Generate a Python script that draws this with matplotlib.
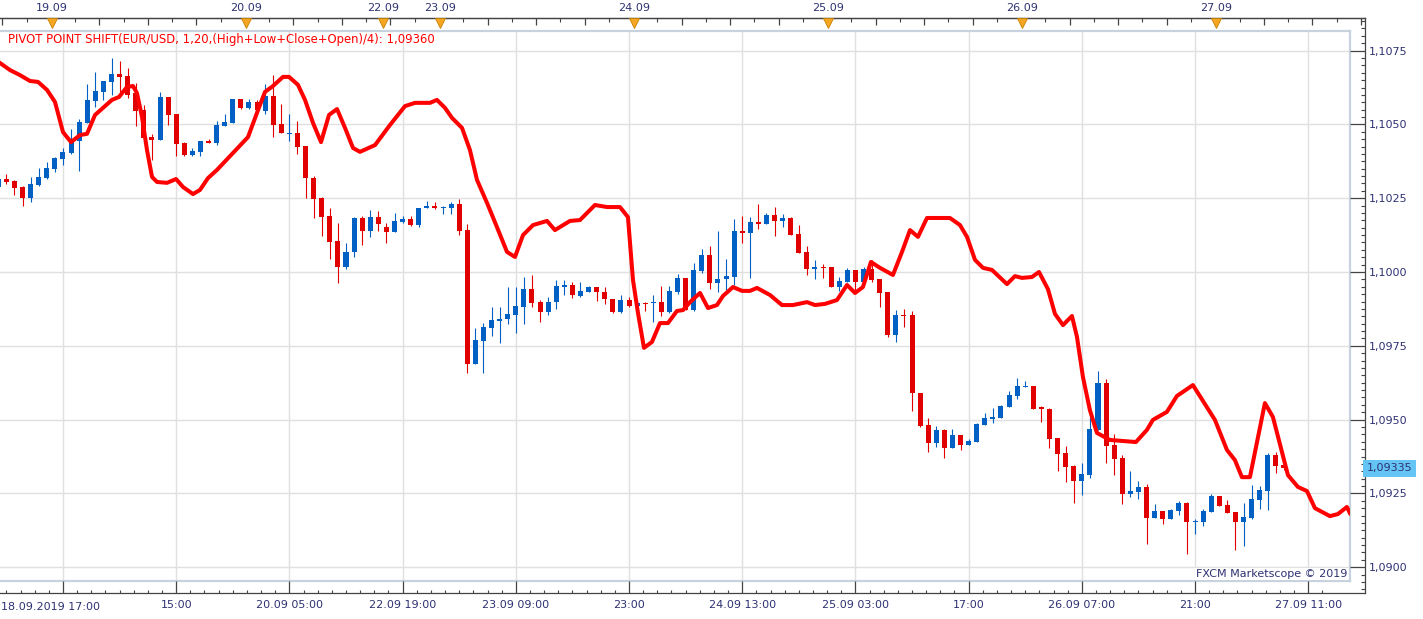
import matplotlib
matplotlib.use("Agg")
import matplotlib.pyplot as plt
from matplotlib.transforms import blended_transform_factory
from matplotlib.ticker import FixedLocator, FuncFormatter, MultipleLocator
import numpy as np

# ---------------- data ----------------
opens = [1.10288,1.10315,1.10308,1.10288,1.10251,1.10295,1.10318,1.10349,1.10383,1.10403,
         1.10444,1.10505,1.10579,1.10610,1.10644,1.10671,1.10664,1.10606,1.10549,1.10457,
         1.10447,1.10593,1.10535,1.10437,1.10396,1.10407,1.10444,1.10437,1.10495,1.10505,
         1.10586,1.10556,1.10576,1.10545,1.10596,1.10501,1.10467,1.10471,1.10427,1.10318,
         1.10251,1.10190,1.10105,1.10017,1.10068,1.10183,1.10139,1.10186,1.10152,1.10136,
         1.10169,1.10180,1.10159,1.10217,1.10224,1.10217,1.10217,1.10230,1.10142,1.09688,
         1.09766,1.09810,1.09834,1.09841,1.09854,1.09881,1.09942,1.09898,1.09864,1.09898,
         1.09949,1.09956,1.09919,1.09932,1.09949,1.09932,1.09909,1.09864,1.09905,1.09885,
         1.09895,1.09895,1.09898,1.09864,1.09932,1.09980,1.09871,1.10003,1.10058,1.09963,
         1.09976,1.09983,1.10139,1.10132,1.10169,1.10163,1.10193,1.10173,1.10183,1.10129,
         1.10068,1.10010,1.10017,1.10017,1.09949,1.09966,1.10007,1.09966,1.10010,1.09976,
         1.09932,1.09787,1.09854,1.09854,1.09590,1.09482,1.09421,1.09465,1.09404,1.09448,
         1.09414,1.09424,1.09482,1.09502,1.09505,1.09543,1.09580,1.09610,1.09614,1.09543,
         1.09536,1.09438,1.09387,1.09343,1.09292,1.09312,1.09465,1.09624,1.09414,1.09370,
         1.09248,1.09255,1.09272,1.09167,1.09190,1.09163,1.09190,1.09217,1.09153,1.09153,
         1.09187,1.09241,1.09211,1.09187,1.09153,1.09167,1.09228,1.09258,1.09380,1.09346]
highs = [1.10329,1.10332,1.10312,1.10291,1.10322,1.10352,1.10373,1.10390,1.10420,1.10484,
         1.10518,1.10637,1.10678,1.10647,1.10725,1.10715,1.10691,1.10640,1.10566,1.10467,
         1.10610,1.10593,1.10535,1.10440,1.10420,1.10444,1.10451,1.10512,1.10535,1.10586,
         1.10586,1.10586,1.10583,1.10637,1.10667,1.10569,1.10535,1.10512,1.10427,1.10325,
         1.10254,1.10217,1.10166,1.10098,1.10186,1.10190,1.10210,1.10207,1.10166,1.10200,
         1.10190,1.10190,1.10217,1.10241,1.10237,1.10224,1.10237,1.10247,1.10163,1.09810,
         1.09827,1.09881,1.09881,1.09949,1.09949,1.09983,1.09990,1.09905,1.09915,1.09973,
         1.09973,1.09966,1.09966,1.09953,1.09949,1.09949,1.09909,1.09922,1.09915,1.09905,
         1.09898,1.09922,1.09953,1.09953,1.09993,1.09980,1.10030,1.10078,1.10088,1.10139,
         1.10044,1.10180,1.10190,1.10186,1.10230,1.10200,1.10220,1.10196,1.10186,1.10159,
         1.10088,1.10041,1.10027,1.10017,1.09983,1.10014,1.10007,1.10017,1.10041,1.09976,
         1.09932,1.09871,1.09875,1.09868,1.09590,1.09505,1.09478,1.09468,1.09468,1.09448,
         1.09434,1.09488,1.09522,1.09539,1.09549,1.09597,1.09641,1.09631,1.09614,1.09546,
         1.09539,1.09438,1.09411,1.09346,1.09353,1.09509,1.09665,1.09638,1.09451,1.09380,
         1.09326,1.09292,1.09282,1.09214,1.09190,1.09197,1.09224,1.09221,1.09163,1.09197,
         1.09248,1.09241,1.09228,1.09187,1.09217,1.09278,1.09275,1.09387,1.09390,1.09363]
lows = [1.10281,1.10298,1.10261,1.10224,1.10237,1.10291,1.10315,1.10339,1.10362,1.10400,
        1.10342,1.10505,1.10559,1.10583,1.10600,1.10610,1.10589,1.10495,1.10454,1.10379,
        1.10447,1.10498,1.10393,1.10393,1.10393,1.10393,1.10437,1.10430,1.10495,1.10505,
        1.10552,1.10552,1.10542,1.10535,1.10457,1.10471,1.10444,1.10400,1.10251,1.10183,
        1.10122,1.10044,1.09963,1.10010,1.10051,1.10091,1.10119,1.10139,1.10098,1.10136,
        1.10166,1.10156,1.10152,1.10217,1.10213,1.10196,1.10196,1.10125,1.09658,1.09688,
        1.09658,1.09783,1.09759,1.09824,1.09793,1.09824,1.09881,1.09831,1.09854,1.09875,
        1.09922,1.09912,1.09915,1.09932,1.09902,1.09892,1.09861,1.09861,1.09881,1.09881,
        1.09868,1.09831,1.09851,1.09861,1.09925,1.09871,1.09868,1.09997,1.09942,1.09932,
        1.09939,1.09956,1.10098,1.09980,1.10146,1.10163,1.10122,1.10152,1.10125,1.10064,
        1.09990,1.09976,1.09980,1.09949,1.09936,1.09966,1.09939,1.09966,1.09966,1.09881,
        1.09780,1.09763,1.09814,1.09529,1.09475,1.09390,1.09407,1.09370,1.09404,1.09397,
        1.09414,1.09424,1.09482,1.09488,1.09505,1.09543,1.09570,1.09610,1.09536,1.09492,
        1.09404,1.09326,1.09289,1.09217,1.09246,1.09302,1.09465,1.09353,1.09312,1.09214,
        1.09238,1.09231,1.09079,1.09167,1.09146,1.09163,1.09177,1.09045,1.09112,1.09140,
        1.09187,1.09207,1.09184,1.09058,1.09072,1.09163,1.09197,1.09194,1.09319,1.09329]
closes = [1.10315,1.10305,1.10285,1.10251,1.10298,1.10322,1.10352,1.10386,1.10407,1.10444,
          1.10508,1.10583,1.10613,1.10647,1.10671,1.10661,1.10600,1.10545,1.10454,1.10447,
          1.10593,1.10532,1.10434,1.10396,1.10410,1.10444,1.10437,1.10498,1.10508,1.10586,
          1.10556,1.10576,1.10549,1.10596,1.10498,1.10471,1.10471,1.10423,1.10318,1.10247,
          1.10186,1.10102,1.10017,1.10068,1.10183,1.10139,1.10186,1.10163,1.10136,1.10173,
          1.10180,1.10159,1.10217,1.10224,1.10217,1.10220,1.10230,1.10139,1.09688,1.09770,
          1.09814,1.09837,1.09841,1.09858,1.09885,1.09942,1.09895,1.09864,1.09898,1.09953,
          1.09956,1.09922,1.09936,1.09949,1.09932,1.09909,1.09864,1.09905,1.09885,1.09895,
          1.09892,1.09898,1.09864,1.09936,1.09980,1.09871,1.10007,1.10058,1.09963,1.09976,
          1.09986,1.10139,1.10132,1.10169,1.10163,1.10193,1.10173,1.10183,1.10125,1.10064,
          1.10010,1.10017,1.10014,1.09949,1.09970,1.10007,1.09966,1.10010,1.09973,1.09929,
          1.09787,1.09854,1.09851,1.09590,1.09478,1.09421,1.09465,1.09404,1.09448,1.09414,
          1.09428,1.09485,1.09505,1.09509,1.09546,1.09583,1.09614,1.09614,1.09536,1.09536,
          1.09434,1.09383,1.09339,1.09292,1.09316,1.09468,1.09624,1.09411,1.09367,1.09248,
          1.09258,1.09272,1.09167,1.09190,1.09163,1.09194,1.09217,1.09153,1.09157,1.09190,
          1.09241,1.09207,1.09184,1.09153,1.09170,1.09231,1.09262,1.09380,1.09343,1.09335]

# pivot point shift line (bar position, value)
pivot_x = [0.21,1.45,2.68,3.92,4.91,6.02,7.01,8.0,8.99,10.1,10.97,11.96,12.95,14.06,14.93,15.92,
           16.66,17.15,17.77,18.39,19.01,19.63,20.86,21.98,22.84,24.08,24.94,25.93,27.05,29.02,
           30.88,31.99,32.98,33.97,35.21,35.95,37.06,37.93,38.92,39.91,40.9,41.89,42.88,43.87,
           44.73,46.59,48.44,50.3,51.53,53.39,54.25,55.24,56.11,57.35,58.33,59.2,60.44,61.67,
           62.91,63.9,64.89,66.13,67.86,68.84,70.7,71.94,73.79,75.28,76.88,77.87,78.49,79.11,
           79.85,80.84,81.83,82.82,83.93,84.68,85.54,86.78,87.77,88.88,89.63,90.86,91.98,92.96,
           93.83,95.44,96.92,98.28,100.01,101.0,102.24,103.72,104.96,105.95,106.93,107.92,
           109.04,110.64,111.76,112.75,113.74,114.85,117.69,118.93,119.8,120.79,121.78,122.89,
           124.74,125.73,126.6,127.83,128.7,129.81,130.68,131.67,132.78,133.4,134.14,135.0,
           135.87,137.48,140.69,142.05,142.79,144.52,145.76,147.74,150.46,151.95,152.93,153.8,
           154.79,156.64,157.63,159.49,160.72,161.84,162.83,164.68,165.67,166.78,167.16]
pivot_y = [1.10708,1.10684,1.10667,1.10647,1.10644,1.10617,1.10576,1.10474,1.10440,1.10464,
           1.10468,1.10532,1.10556,1.10583,1.10593,1.10627,1.10630,1.10606,1.10525,1.10413,
           1.10322,1.10305,1.10302,1.10315,1.10288,1.10264,1.10278,1.10318,1.10346,1.10403,
           1.10457,1.10539,1.10610,1.10630,1.10661,1.10661,1.10634,1.10583,1.10505,1.10440,
           1.10532,1.10552,1.10488,1.10420,1.10407,1.10430,1.10498,1.10562,1.10573,1.10573,
           1.10583,1.10556,1.10522,1.10488,1.10413,1.10312,1.10234,1.10152,1.10068,1.10051,
           1.10125,1.10159,1.10173,1.10142,1.10173,1.10176,1.10227,1.10220,1.10220,1.10186,
           1.09973,1.09861,1.09743,1.09763,1.09827,1.09827,1.09868,1.09871,1.09898,1.09929,
           1.09878,1.09888,1.09919,1.09949,1.09936,1.09936,1.09946,1.09922,1.09888,1.09888,
           1.09898,1.09888,1.09892,1.09905,1.09956,1.09929,1.09949,1.10034,1.10014,1.09990,
           1.10068,1.10142,1.10119,1.10183,1.10183,1.10159,1.10119,1.10041,1.10014,1.10007,
           1.09959,1.09986,1.09980,1.09983,1.10000,1.09942,1.09858,1.09820,1.09851,1.09780,
           1.09644,1.09532,1.09455,1.09431,1.09424,1.09465,1.09499,1.09526,1.09580,1.09617,
           1.09499,1.09397,1.09363,1.09305,1.09305,1.09556,1.09509,1.09312,1.09272,1.09258,
           1.09200,1.09173,1.09180,1.09204,1.09183]
pivot_value = 1.09360

bottom_tick_pos = [22, 36, 50, 64, 78, 92, 106, 120, 134, 148, 162]
bottom_tick_labels = ["15:00", "20.09 05:00", "22.09 19:00", "23.09 09:00", "23:00",
                      "24.09 13:00", "25.09 03:00", "17:00", "26.09 07:00", "21:00", "27.09 11:00"]
first_label = "18.09.2019 17:00"
day_pos = [7, 31, 48, 55, 79, 103, 127, 151]
day_labels = ["19.09", "20.09", "22.09", "23.09", "24.09", "25.09", "26.09", "27.09"]
ytick_vals = [1.0900, 1.0925, 1.0950, 1.0975, 1.1000, 1.1025, 1.1050, 1.1075]

# ---------------- layout ----------------
W, H = 1423, 619
PX_PER_BAR = 8.086
X_LEFT = 0.21              # bar position at left edge of plot
PX_PER_PRICE = 73.8 / 0.0025
Y_ANCHOR_PX, Y_ANCHOR_P = 272, 1.1000

def price_at(py):
    return Y_ANCHOR_P + (Y_ANCHOR_PX - py) / PX_PER_PRICE

TXT = "#2e3272"
BLUE = "#0060c4"
RED = "#e00000"

fig = plt.figure(figsize=(W / 100, H / 100), dpi=100)
fig.patch.set_facecolor("white")

# plot area: px x 0..1350, y 31..581
ax = fig.add_axes([0, 1 - 581 / H, 1350 / W, 550 / H])
ax.set_xlim(X_LEFT, X_LEFT + 1350 / PX_PER_BAR)
ax.set_ylim(price_at(581), price_at(31))
ax.set_xticks([])
ax.set_yticks([])
for s in ["top", "right", "bottom"]:
    ax.spines[s].set_color("#c8d2de")
    ax.spines[s].set_linewidth(1.6)
ax.spines["left"].set_visible(False)

grid_x = [8 + 14 * k for k in range(12)]
for gx in grid_x:
    ax.axvline(gx, color="#e0e0e0", lw=1.0, zorder=0)
for gy in ytick_vals:
    ax.axhline(gy, color="#e0e0e0", lw=1.0, zorder=0)

idx = np.arange(len(opens))
o = np.array(opens); h = np.array(highs); l = np.array(lows); c = np.array(closes)
up = c >= o
cols = np.where(up, BLUE, RED)
ax.vlines(idx, l, h, colors=cols, lw=0.8, zorder=2)
body_bottom = np.minimum(o, c)
body_h = np.maximum(np.abs(c - o), 0.000045)
ax.bar(idx, body_h, bottom=body_bottom, width=0.62, color=cols, lw=0, zorder=3)

assert len(pivot_x) == len(pivot_y)
ax.plot(pivot_x, pivot_y, color="#ff0000", lw=2.9, solid_joinstyle="round", zorder=4)

legend_txt = ("PIVOT POINT SHIFT(EUR/USD, 1,20,(High+Low+Close+Open)/4): "
              + f"{pivot_value:.5f}".replace(".", ","))
ax.annotate(legend_txt, xy=(0, 1), xycoords="axes fraction", xytext=(8, -9),
            textcoords="offset pixels", ha="left", va="center", color="#ff0000", fontsize=8.35)
ax.annotate("FXCM Marketscope \u00a9 2019", xy=(1, 0), xycoords="axes fraction",
            xytext=(-3, 7), textcoords="offset pixels", ha="right", va="center",
            color=TXT, fontsize=8,
            bbox=dict(boxstyle="square,pad=0.1", fc="white", ec="none"))

# frame axes: px x 0..1365, y 18..593
axf = fig.add_axes([0, 1 - 593 / H, 1365 / W, 575 / H])
axf.patch.set_alpha(0)
axf.set_xlim(X_LEFT, X_LEFT + 1365 / PX_PER_BAR)
axf.set_ylim(price_at(593), price_at(18))
axf.spines["left"].set_visible(False)
for s in ["top", "right", "bottom"]:
    axf.spines[s].set_color("#444444")
    axf.spines[s].set_linewidth(0.9)

axf.yaxis.tick_right()
axf.yaxis.set_major_locator(FixedLocator(ytick_vals))
axf.yaxis.set_minor_locator(MultipleLocator(0.00025))
axf.yaxis.set_major_formatter(FuncFormatter(lambda v, p: f"{v:.4f}".replace(".", ",")))
axf.tick_params(axis="y", which="major", direction="in", length=10.8, width=0.9,
                color="#444444", pad=3, labelsize=8, labelcolor=TXT)
axf.tick_params(axis="y", which="minor", direction="in", length=3.0, width=0.8, color="#444444")

axf.xaxis.set_major_locator(FixedLocator([8] + bottom_tick_pos))
axf.xaxis.set_major_formatter(FuncFormatter(
    lambda v, p: dict(zip(bottom_tick_pos, bottom_tick_labels)).get(int(round(v)), "")))
minor_b = [8 + 1.75 * k for k in range(0, 90) if k % 8 != 0 and 8 + 1.75 * k < 169]
minor_b += [8 - 1.75 * k for k in range(1, 5)]
axf.xaxis.set_minor_locator(FixedLocator(minor_b))
axf.tick_params(axis="x", which="major", direction="in", length=8.6, width=0.9,
                color="#444444", pad=5, labelsize=8, labelcolor=TXT)
axf.tick_params(axis="x", which="minor", direction="in", length=2.2, width=0.8, color="#444444")
axf.annotate(first_label, xy=(0, 0), xycoords="axes fraction", xytext=(1, -14),
             textcoords="offset pixels", ha="left", va="center", fontsize=8, color=TXT)

# current price tag
tr = blended_transform_factory(axf.transAxes, axf.transData)
axf.text(1.0012, closes[-1], f"{closes[-1]:.5f}".replace(".", ","), transform=tr,
         ha="left", va="center", fontsize=8, color=TXT, clip_on=False,
         bbox=dict(boxstyle="square,pad=0.3", fc="#64c4f4", ec="none"), zorder=10)

# top time axis
axt = axf.twiny()
axt.patch.set_alpha(0)
axt.set_xlim(axf.get_xlim())
for s in ["left", "right", "bottom"]:
    axt.spines[s].set_visible(False)
axt.spines["top"].set_color("#444444")
axt.spines["top"].set_linewidth(0.9)
axt.xaxis.set_major_locator(FixedLocator([1 + 6 * k - 0.5 for k in range(29)]))
axt.xaxis.set_minor_locator(FixedLocator([1 + 3 * k - 0.5 for k in range(57)]))
axt.xaxis.set_major_formatter(FuncFormatter(lambda v, p: ""))
axt.tick_params(axis="x", which="major", direction="in", length=5.0, width=0.9, color="#444444")
axt.tick_params(axis="x", which="minor", direction="in", length=2.6, width=0.8, color="#444444")
trt = blended_transform_factory(axt.transData, axt.transAxes)
dpx = [d - 0.4 for d in day_pos]
axt.plot(dpx, [1 - 5 / 575] * len(dpx), transform=trt, ls="none", marker="v",
         ms=7.2, mfc="#f5a623", mec="#c98200", mew=0.6, clip_on=False, zorder=5)
for d, lab in zip(dpx, day_labels):
    axt.annotate(lab, xy=(d, 1), xycoords=trt, xytext=(0, 10), textcoords="offset pixels",
                 ha="center", va="center", fontsize=8, color=TXT)

fig.savefig("out.png", dpi=100, facecolor="white")
